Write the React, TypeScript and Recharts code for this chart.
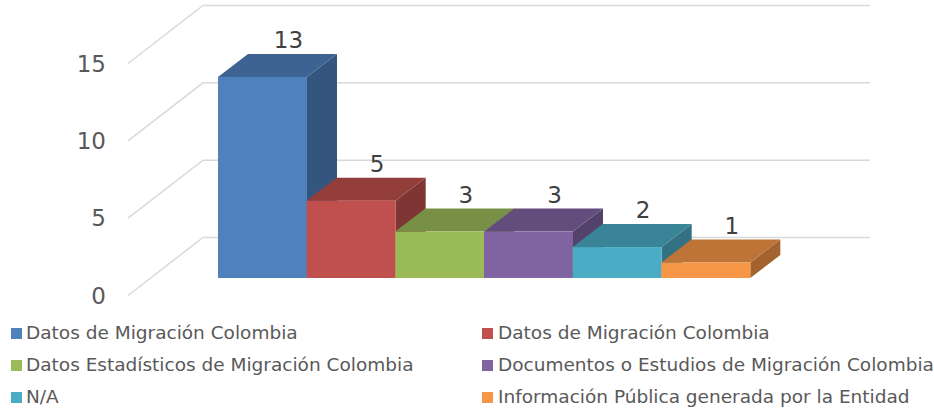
import React from 'react';
import { BarChart, Bar, XAxis, YAxis, CartesianGrid, Cell, LabelList } from 'recharts';

const categories = [
  'Datos de Migración Colombia',
  'Datos de Migración Colombia',
  'Datos Estadísticos de Migración Colombia',
  'Documentos o Estudios de Migración Colombia',
  'N/A',
  'Información Pública generada por la Entidad',
];
const values = [13, 5, 3, 3, 2, 1];
const colors = ['#4F81BD', '#C0504D', '#9BBB59', '#8064A2', '#4BACC6', '#F79646'];
const yTicks = [0, 5, 10, 15];

const data = categories.map((name, i) => ({ key: 'c' + i, name, value: values[i] }));

const DX = 30;
const DY = -23;
const FONT = '"DejaVu Sans", Verdana, sans-serif';

function shade(hex: string, f: number) {
  const n = parseInt(hex.slice(1), 16);
  const r = Math.round(((n >> 16) & 255) * f);
  const g = Math.round(((n >> 8) & 255) * f);
  const b = Math.round((n & 255) * f);
  return `rgb(${r},${g},${b})`;
}

const Box3D = (props: any) => {
  const { x, y, width, height, index } = props;
  const c = colors[index % colors.length];
  const w = width;
  const h = height;
  return (
    <g>
      <polygon
        points={`${x + w},${y} ${x + w + DX},${y + DY} ${x + w + DX},${y + h + DY} ${x + w},${y + h}`}
        fill={shade(c, 0.66)}
      />
      <polygon
        points={`${x},${y} ${x + w},${y} ${x + w + DX},${y + DY} ${x + DX},${y + DY}`}
        fill={shade(c, 0.77)}
      />
      <rect x={x} y={y} width={w} height={h} fill={c} />
    </g>
  );
};

const gridLine = (props: any) => {
  const { y1, key } = props;
  const y = y1;
  return (
    <path
      key={key ?? `g-${y}`}
      d={`M128,${y + 17.5} L203,${y - 40.5} L870,${y - 40.5}`}
      fill="none"
      stroke="#D9D9D9"
      strokeWidth={1.5}
    />
  );
};

const YTick = (props: any) => {
  const { y, payload } = props;
  return (
    <text x={106} y={y + 17.5} dy="0.36em" textAnchor="end" fontSize={23} fill="#595959" fontFamily={FONT}>
      {payload.value}
    </text>
  );
};

const ValueLabel = (props: any) => {
  const { x, y, width, value } = props;
  return (
    <text x={x + width / 2 + 26} y={y - 29} textAnchor="middle" fontSize={23} fill="#404040" fontFamily={FONT}>
      {value}
    </text>
  );
};

const legendRows = [333, 365, 397];

export default function App() {
  return (
    <div style={{ position: 'absolute', left: 0, top: 0, width: 934, height: 408, fontFamily: FONT, background: '#fff' }}>
      <BarChart
        width={934}
        height={312}
        data={data}
        margin={{ top: 46, right: 184, bottom: 34, left: 158 }}
        barCategoryGap={0}
      >
        <CartesianGrid vertical={false} horizontal={gridLine} />
        <XAxis dataKey="key" hide />
        <YAxis
          width={60}
          domain={[0, 15]}
          ticks={yTicks}
          axisLine={false}
          tickLine={false}
          tick={<YTick />}
          interval={0}
        />
        <Bar dataKey="value" isAnimationActive={false} shape={<Box3D />}>
          {data.map((d, i) => (
            <Cell key={d.key} fill={colors[i]} />
          ))}
          <LabelList dataKey="value" content={<ValueLabel />} />
        </Bar>
      </BarChart>
      {categories.map((name, i) => {
        const row = Math.floor(i / 2);
        const col = i % 2;
        const cy = legendRows[row];
        const sx = col === 0 ? 11 : 482;
        const tx = col === 0 ? 26 : 498;
        return (
          <React.Fragment key={i}>
            <div style={{ position: 'absolute', left: sx, top: cy - 5, width: 11, height: 11, background: colors[i] }} />
            <div
              style={{
                position: 'absolute',
                left: tx,
                top: cy - 12,
                height: 24,
                lineHeight: '24px',
                fontSize: 18.5,
                color: '#595959',
                whiteSpace: 'nowrap',
              }}
            >
              {name}
            </div>
          </React.Fragment>
        );
      })}
    </div>
  );
}
